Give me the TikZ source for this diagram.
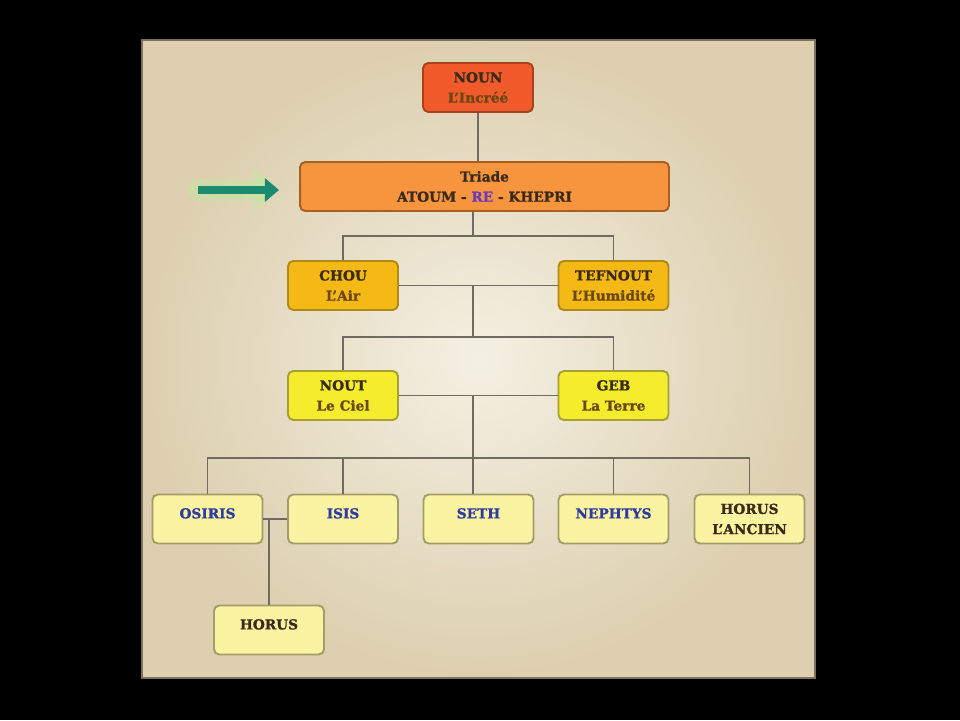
\documentclass[tikz,border=0pt]{standalone}
\usepackage{fontspec}
\setmainfont{DejaVu Serif}[BoldFeatures={FakeBold=1.2}]
\usetikzlibrary{arrows.meta}

\definecolor{panellight}{HTML}{F4F0E2}
\definecolor{paneldark}{HTML}{DDCFAF}
\definecolor{wire}{HTML}{6F6B62}
\definecolor{nametxt}{HTML}{3A2A18}
\definecolor{subtxt}{HTML}{6B4712}
\definecolor{bluetxt}{HTML}{2E3C9E}
\definecolor{retxt}{HTML}{6A3AB8}
\definecolor{nounfill}{HTML}{F15A2B}
\definecolor{nounline}{HTML}{A8421C}
\definecolor{triadfill}{HTML}{F7953F}
\definecolor{triadline}{HTML}{A65F24}
\definecolor{choufill}{HTML}{F5B916}
\definecolor{chouline}{HTML}{B08A18}
\definecolor{noutfill}{HTML}{F6EC2E}
\definecolor{noutline}{HTML}{A8A032}
\definecolor{kidfill}{HTML}{FAF3A2}
\definecolor{kidline}{HTML}{A29C68}
\definecolor{arrowteal}{HTML}{1B8B70}
\definecolor{arrowglow}{HTML}{C6E6A2}

\begin{document}
\begin{tikzpicture}[x=0.02cm,y=-0.02cm]

    \tikzset{
      god/.style={
        draw,
        rounded corners=3pt,
        line width=1.1pt,
        minimum width=2.2cm,
        minimum height=0.98cm,
        inner sep=1pt,
        align=center,
        text=nametxt,
        font=\fontsize{7.8}{11.5}\selectfont\bfseries,
      },
      noun/.style={god, fill=nounfill, draw=nounline},
      triad/.style={god, fill=triadfill, draw=triadline, minimum width=7.38cm},
      chou/.style={god, fill=choufill, draw=chouline},
      nout/.style={god, fill=noutfill, draw=noutline},
      kid/.style={god, fill=kidfill, draw=kidline},
      lone/.style={kid, text depth=6.5pt},
      wire/.style={draw=wire, line width=1.1pt},
    }
    \useasboundingbox (0,0) rectangle (960,720);
    \fill[black] (0,0) rectangle (960,720);
    \shade[inner color=panellight, outer color=paneldark] (142,40) rectangle (815,678);
    \draw[paneldark!55!black, line width=0.6pt] (142,40) rectangle (815,678);

    % gods
    \node[noun] (noun) at (478,87.5) {NOUN\\\textcolor{subtxt}{L'Incréé}};
    \node[triad] (triade) at (484.5,186.5) {Triade\\ATOUM - \textcolor{retxt}{RE} - KHEPRI};
    \node[chou] (chou) at (343,285.5) {CHOU\\\textcolor{subtxt}{L'Air}};
    \node[chou] (tefnout) at (613.5,285.5) {TEFNOUT\\\textcolor{subtxt}{L'Humidité}};
    \node[nout] (nout) at (343,395.5) {NOUT\\\textcolor{subtxt}{Le Ciel}};
    \node[nout] (geb) at (613.5,395.5) {GEB\\\textcolor{subtxt}{La Terre}};
    \node[lone, text=bluetxt] (osiris) at (207.5,519) {OSIRIS};
    \node[lone, text=bluetxt] (isis) at (343,519) {ISIS};
    \node[lone, text=bluetxt] (seth) at (478.5,519) {SETH};
    \node[lone, text=bluetxt] (nephtys) at (613.5,519) {NEPHTYS};
    \node[kid] (ancien) at (749.5,519) {HORUS\\L'ANCIEN};
    \node[lone] (horus) at (269,630) {HORUS};

    % family lines
    \coordinate (j1) at (473,236);
    \coordinate (j2) at (473,337);
    \coordinate (j3) at (473,458);
    \draw[wire] (noun.south) -- (triade.north -| noun.south);
    \draw[wire] (triade.south -| j1) -- (j1);
    \draw[wire] (chou.north) |- (j1) -| (tefnout.north);
    \draw[wire] (chou.east) -- (tefnout.west);
    \draw[wire] (chou.east -| j2) -- (j2);
    \draw[wire] (nout.north) |- (j2) -| (geb.north);
    \draw[wire] (nout.east) -- (geb.west);
    \draw[wire] (nout.east -| j3) -- (j3) -- (seth.north -| j3);
    \draw[wire] (osiris.north) |- (j3) -| (ancien.north);
    \draw[wire] (isis.north) -- (isis.north |- j3);
    \draw[wire] (nephtys.north) -- (nephtys.north |- j3);
    \draw[wire] (osiris.east) -- (isis.west);
    \draw[wire] (horus.north) -- (horus.north |- osiris.east);

    % pointer
    \coordinate (tail) at (198,190);
    \coordinate (tip) at (279,190);
    \draw[arrowglow, opacity=0.5, line width=12pt, line cap=round,
      -{Triangle[length=14pt,width=24pt]}] (tail) -- (tip);
    \draw[arrowteal, line width=4.5pt,
      -{Triangle[length=8pt,width=13pt]}] (tail) -- (tip);

\end{tikzpicture}
\end{document}
